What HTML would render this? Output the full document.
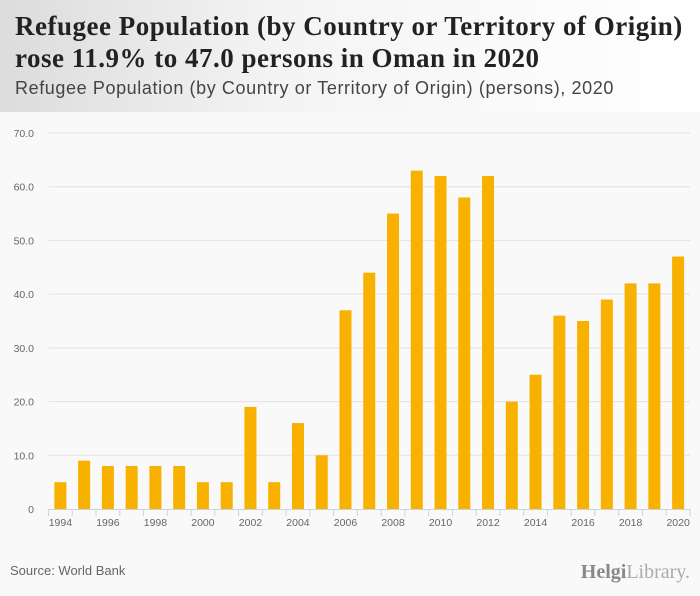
<!DOCTYPE html>
<html><head><meta charset="utf-8"><style>
body{margin:0;width:700px;height:596px;background:#f9f9f9;font-family:"Liberation Sans",sans-serif;overflow:hidden;position:relative}
#hdr{position:absolute;left:0;top:0;width:700px;height:112px;background:linear-gradient(90deg,#dcdcdc 0%,#f4f4f4 40%,#fff 100%)}
#t1{position:absolute;left:15px;top:10px;font-family:"Liberation Serif",serif;font-weight:bold;font-size:27px;line-height:32px;color:#222;letter-spacing:0.5px}
#t2{position:absolute;left:15px;top:78px;font-size:18px;color:#444;letter-spacing:0.6px}
#src{position:absolute;left:10px;top:563px;font-size:13px;color:#666}
#logo{position:absolute;right:10px;top:561px;font-family:"Liberation Serif",serif;font-size:20px;color:#888}
</style></head><body>
<div id="hdr">
<div id="t1">Refugee Population (by Country or Territory of Origin)<br>rose 11.9% to 47.0 persons in Oman in 2020</div>
<div id="t2">Refugee Population (by Country or Territory of Origin) (persons), 2020</div>
</div>
<svg id="chart" width="700" height="596" style="position:absolute;left:0;top:0"></svg>
<div id="src">Source: World Bank</div>
<div id="logo"><b>Helgi</b><span style="color:#aaa">Library.</span></div>
<script>
const years=[1994,1995,1996,1997,1998,1999,2000,2001,2002,2003,2004,2005,2006,2007,2008,2009,2010,2011,2012,2013,2014,2015,2016,2017,2018,2019,2020];
const values=[5,9,8,8,8,8,5,5,19,5,16,10,37,44,55,63,62,58,62,20,25,36,35,39,42,42,47];
const yTicks=[0,10,20,30,40,50,60,70];
const yTickLabels=["0","10.0","20.0","30.0","40.0","50.0","60.0","70.0"];
const svg=document.getElementById('chart');
const NS='http://www.w3.org/2000/svg';
const L=48.5,R=690,B=509,T=133,yMax=70;
const bw=(R-L)/years.length;
function y(v){return B-(v/yMax)*(B-T);}
function xc(i){return L+bw*(i+0.5);}
function mk(t,a){const e=document.createElementNS(NS,t);for(const k in a)e.setAttribute(k,a[k]);svg.appendChild(e);return e;}
yTicks.forEach((v,i)=>{
  if(v>0){const g=mk('line',{x1:L,x2:R,y1:y(v),y2:y(v),stroke:'#e2e2e2','stroke-width':1});
  
  }
  const t=mk('text',{x:34,y:y(v)+4,'text-anchor':'end','font-size':10.5,fill:'#666','font-family':'Liberation Sans,sans-serif'});
  t.textContent=yTickLabels[i];
  
  
});
values.forEach((v,i)=>{
  const r=mk('rect',{x:xc(i)-6,y:y(v),width:12,height:B-y(v),fill:'#f9b100'});
  
  
});
const ax=mk('line',{x1:L,x2:R,y1:B+0.5,y2:B+0.5,stroke:'#c8d3e6','stroke-width':1});


for(let i=0;i<=years.length;i++){
  const tk=mk('line',{x1:L+bw*i,x2:L+bw*i,y1:B,y2:B+7,stroke:'#c8d3e6','stroke-width':1});
  
  
}
years.forEach((yr,i)=>{
  if(yr%2===0){
    const t=mk('text',{x:xc(i),y:B+17,'text-anchor':'middle','font-size':10.5,fill:'#666','font-family':'Liberation Sans,sans-serif'});
    t.textContent=yr;
    
    
  }
});
</script>
</body></html>
